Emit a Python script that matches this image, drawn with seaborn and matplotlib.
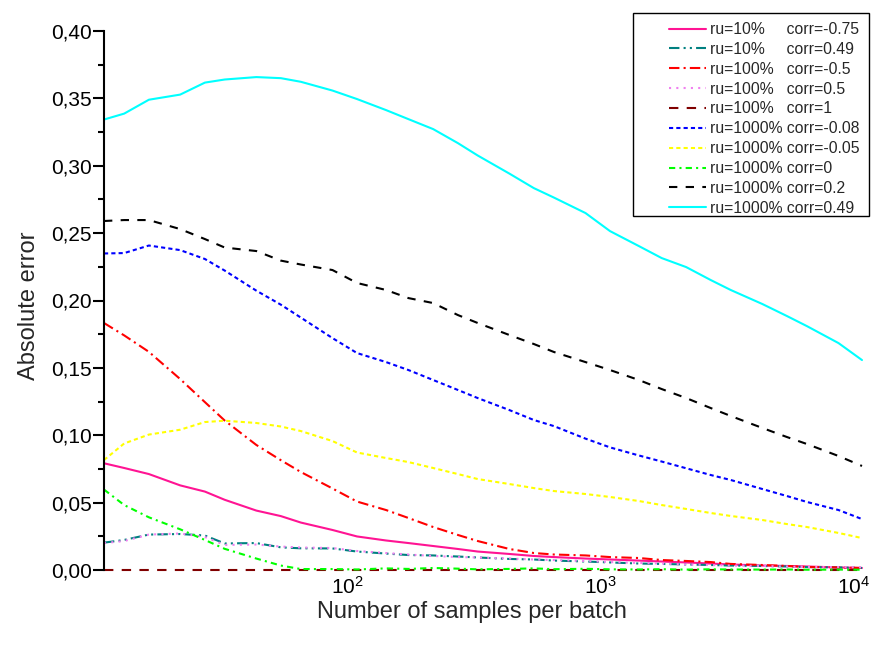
import matplotlib
matplotlib.use("Agg")
import matplotlib.pyplot as plt
import seaborn as sns
import numpy as np
import pandas as pd
from matplotlib.patches import Rectangle
from matplotlib.ticker import MultipleLocator, NullLocator

# ---------------- data ----------------
X_SAMPLES = [10.9, 13.1, 16.4, 21.8, 27.3, 32.7, 43.6, 54.5, 65.4, 87.2, 109, 142, 174, 218,
             273, 327, 436, 545, 654, 872, 1090, 1417, 1744, 2180, 2725, 3270, 4360, 5450,
             6540, 8720, 10800]

ru10_corr_m075 = [0.0792, 0.0757, 0.0712, 0.0628, 0.0582, 0.0521, 0.0441, 0.0400, 0.0352, 0.0297,
                  0.0249, 0.0219, 0.0200, 0.0178, 0.0156, 0.0137, 0.0119, 0.0104, 0.0096, 0.0085,
                  0.0078, 0.0070, 0.0063, 0.0056, 0.0048, 0.0041, 0.0033, 0.0030, 0.0026, 0.0019,
                  0.0015]
ru10_corr_049 = [0.0203, 0.0223, 0.0263, 0.0267, 0.0256, 0.0197, 0.0200, 0.0168, 0.0161, 0.0160,
                 0.0137, 0.0122, 0.0111, 0.0108, 0.0100, 0.0093, 0.0082, 0.0078, 0.0070, 0.0063,
                 0.0056, 0.0048, 0.0045, 0.0041, 0.0037, 0.0033, 0.0030, 0.0026, 0.0022, 0.0019,
                 0.0015]
ru100_corr_m05 = [0.1833, 0.1741, 0.1619, 0.1417, 0.1246, 0.1109, 0.0928, 0.0815, 0.0727, 0.0605,
                  0.0508, 0.0445, 0.0386, 0.0319, 0.0260, 0.0215, 0.0156, 0.0126, 0.0115, 0.0108,
                  0.0096, 0.0089, 0.0074, 0.0067, 0.0059, 0.0045, 0.0037, 0.0030, 0.0022, 0.0019,
                  0.0015]
ru100_corr_05 = [0.0200, 0.0215, 0.0263, 0.0271, 0.0245, 0.0186, 0.0189, 0.0174, 0.0167, 0.0163,
                 0.0141, 0.0126, 0.0115, 0.0104, 0.0096, 0.0093, 0.0085, 0.0078, 0.0074, 0.0067,
                 0.0059, 0.0052, 0.0048, 0.0041, 0.0037, 0.0033, 0.0030, 0.0026, 0.0022, 0.0022,
                 0.0019]
ru100_corr_1 = [0.0, 0.0, 0.0, 0.0, 0.0, 0.0, 0.0, 0.0, 0.0, 0.0, 0.0, 0.0, 0.0, 0.0, 0.0, 0.0,
                0.0, 0.0, 0.0, 0.0, 0.0, 0.0, 0.0, 0.0, 0.0, 0.0, 0.0, 0.0, 0.0, 0.0, 0.0]
ru1000_corr_m008 = [0.2349, 0.2352, 0.2408, 0.2374, 0.2308, 0.2222, 0.2073, 0.1969, 0.1873, 0.1721,
                    0.1610, 0.1543, 0.1484, 0.1410, 0.1336, 0.1276, 0.1187, 0.1113, 0.1068, 0.0975,
                    0.0910, 0.0850, 0.0805, 0.0755, 0.0705, 0.0668, 0.0601, 0.0549, 0.0505, 0.0445,
                    0.0378]
ru1000_corr_m005 = [0.0816, 0.0939, 0.1005, 0.1041, 0.1098, 0.1108, 0.1091, 0.1065, 0.1031, 0.0957,
                    0.0872, 0.0831, 0.0801, 0.0757, 0.0712, 0.0675, 0.0638, 0.0608, 0.0586, 0.0564,
                    0.0542, 0.0512, 0.0482, 0.0453, 0.0423, 0.0401, 0.0371, 0.0341, 0.0319, 0.0275,
                    0.0237]
ru1000_corr_0 = [0.0597, 0.0482, 0.0391, 0.0302, 0.0223, 0.0157, 0.0085, 0.0033, 0.0007, 0.0007,
                 0.0004, 0.0012, 0.0008, 0.0015, 0.0010, 0.0005, 0.0008, 0.0012, 0.0006, 0.0009,
                 0.0005, 0.0004, 0.0006, 0.0003, 0.0005, 0.0004, 0.0003, 0.0004, 0.0002, 0.0003,
                 0.0002]
ru1000_corr_02 = [0.2590, 0.2597, 0.2597, 0.2530, 0.2456, 0.2393, 0.2367, 0.2296, 0.2267, 0.2226,
                  0.2130, 0.2078, 0.2018, 0.1981, 0.1892, 0.1833, 0.1744, 0.1677, 0.1618, 0.1543,
                  0.1484, 0.1410, 0.1343, 0.1276, 0.1202, 0.1143, 0.1054, 0.0987, 0.0935, 0.0846,
                  0.0772]
ru1000_corr_049 = [0.3343, 0.3387, 0.3490, 0.3528, 0.3617, 0.3640, 0.3658, 0.3650, 0.3623, 0.3558,
                   0.3495, 0.3413, 0.3346, 0.3272, 0.3168, 0.3076, 0.2942, 0.2834, 0.2764, 0.2649,
                   0.2515, 0.2404, 0.2315, 0.2248, 0.2152, 0.2078, 0.1974, 0.1885, 0.1810, 0.1684,
                   0.1558]

LEGEND_LABELS = [
    "ru=10%     corr=-0.75",
    "ru=10%     corr=0.49",
    "ru=100%   corr=-0.5",
    "ru=100%   corr=0.5",
    "ru=100%   corr=1",
    "ru=1000% corr=-0.08",
    "ru=1000% corr=-0.05",
    "ru=1000% corr=0",
    "ru=1000% corr=0.2",
    "ru=1000% corr=0.49",
]

Y_TICKS = [0.00, 0.05, 0.10, 0.15, 0.20, 0.25, 0.30, 0.35, 0.40]
Y_TICK_LABELS = ["0,00", "0,05", "0,10", "0,15", "0,20", "0,25", "0,30", "0,35", "0,40"]
X_TICKS = [100, 1000, 10000]
X_TICK_LABELS = [r"$10^2$", r"$10^3$", r"$10^4$"]

# ---------------- style ----------------
sns.set_style("ticks")
plt.rcParams["font.family"] = ["Liberation Sans", "DejaVu Sans"]
plt.rcParams["mathtext.fontset"] = "custom"
plt.rcParams["mathtext.rm"] = "Liberation Sans"
plt.rcParams["mathtext.it"] = "Liberation Sans:italic"
plt.rcParams["mathtext.default"] = "regular"

fig = plt.figure(figsize=(8.92, 6.48), dpi=100)
ax = fig.add_axes([104 / 892, 1 - 570 / 648, (862 - 104) / 892, (570 - 31) / 648])

series = [
    (ru10_corr_m075, "#FF1493", "-"),
    (ru10_corr_049, "#008080", (0, (5, 2, 1, 2, 1, 2))),
    (ru100_corr_m05, "#FF0000", (0, (5, 2, 1, 2))),
    (ru100_corr_05, "#F080F0", (0, (1, 2.5))),
    (ru100_corr_1, "#800000", (0, (4.5, 4))),
    (ru1000_corr_m008, "#0000FF", (0, (2, 1.5))),
    (ru1000_corr_m005, "#FFFF00", (0, (2, 1.5))),
    (ru1000_corr_0, "#00FF00", (0, (3, 2, 1, 2))),
    (ru1000_corr_02, "#000000", (0, (4, 4))),
    (ru1000_corr_049, "#00FFFF", "-"),
]

for (vals, color, ls), lab in zip(series, LEGEND_LABELS):
    sns.lineplot(x=X_SAMPLES, y=vals, ax=ax, color=color, linestyle=ls,
                 linewidth=1.5, label=lab, clip_on=False)

handles, labels = ax.get_legend_handles_labels()
if ax.get_legend() is not None:
    ax.get_legend().remove()

ax.set_xscale("log")
ax.set_xlim(10.9, 10800)
ax.set_ylim(0, 0.40)
ax.set_xticks(X_TICKS)
ax.set_xticklabels(X_TICK_LABELS)
ax.xaxis.set_minor_locator(NullLocator())
ax.set_yticks(Y_TICKS)
ax.set_yticklabels(Y_TICK_LABELS)
ax.yaxis.set_minor_locator(MultipleLocator(0.025))

for s in ["top", "right", "bottom"]:
    ax.spines[s].set_visible(False)
ax.spines["left"].set_linewidth(1.5)
ax.spines["left"].set_color("black")

ax.tick_params(axis="y", which="major", length=8, width=1.5, direction="out",
               pad=1, labelsize=15, colors="black")
ax.tick_params(axis="y", which="minor", length=4, width=1.5, direction="out", colors="black")
ax.tick_params(axis="x", which="both", length=0, pad=4, labelsize=15, colors="black")

ax.set_xlabel("Number of samples per batch", fontsize=17)
ax.set_ylabel("Absolute error", fontsize=17)
ax.xaxis.set_label_coords(0.4855, -0.058)
ax.yaxis.set_label_coords(-0.0844, 0.49)

# legend
fig.add_artist(Rectangle((633 / 892, 1 - 216 / 648), (869 - 633) / 892, (216 - 13) / 648,
                         transform=fig.transFigure, fill=False, edgecolor="black", linewidth=1.0))
fig.legend(handles, labels, loc="upper left", bbox_to_anchor=(669 / 892, 1 - 22 / 648),
           bbox_transform=fig.transFigure, frameon=False, borderpad=0, borderaxespad=0,
           handlelength=2.36, handletextpad=0.25, labelspacing=0.31, fontsize=11.3)

fig.savefig("out.png", dpi=100)
